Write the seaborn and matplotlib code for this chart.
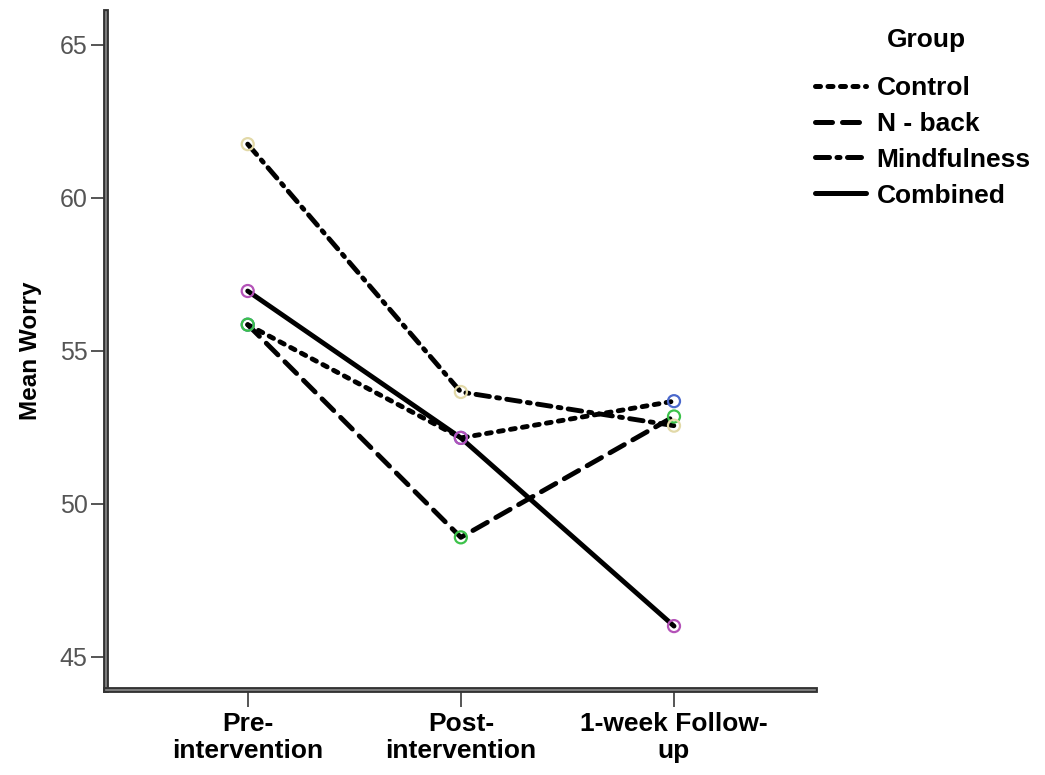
import pandas as pd
import numpy as np
import matplotlib
matplotlib.use("Agg")
import matplotlib.pyplot as plt
import matplotlib.patheffects as pe
import seaborn as sns

# datos
tiempos = ["Pre-\nintervention", "Post-\nintervention", "1-week Follow-\nup"]
grupos = ["Control", "N - back", "Mindfulness", "Combined"]
control = [55.85, 52.15, 53.35]
nback = [55.85, 48.9, 52.85]
mindfulness = [61.75, 53.65, 52.55]
combined = [56.95, 52.15, 46.0]

colores = ["#4a68cc", "#3cc24a", "#e2d9a8", "#b452b8"]
trazos = [(1.0, 1.5), (3.4, 2.0), (2.8, 1.5, 0.6, 1.5), ""]

df = pd.DataFrame({
    "Tiempo": tiempos * 4,
    "Group": np.repeat(grupos, 3),
    "Mean": control + nback + mindfulness + combined,
})
df["x"] = np.tile(np.arange(len(tiempos)), 4)

sns.set_style("white")
plt.rcParams["font.family"] = ["Liberation Sans", "DejaVu Sans"]
plt.rcParams["text.color"] = "black"
plt.rcParams["axes.labelcolor"] = "black"
plt.rcParams["lines.dash_capstyle"] = "round"
plt.rcParams["lines.solid_capstyle"] = "round"

fig = plt.figure(figsize=(10.45, 7.75), dpi=100)
ax = fig.add_axes([0.101, 0.110, 0.679, 0.875])

sns.lineplot(data=df, x="x", y="Mean", style="Group", style_order=grupos,
             dashes=dict(zip(grupos, trazos)), color="black", linewidth=3.5,
             ax=ax, legend=False)
sns.scatterplot(data=df, x="x", y="Mean", hue="Group", hue_order=grupos,
                palette=dict(zip(grupos, colores)), marker="o", s=75,
                linewidth=1.6, ax=ax, legend=False, zorder=5)
# círculos huecos
puntos = ax.collections[-1]
puntos.set_edgecolors(puntos.get_facecolors())
puntos.set_facecolors("none")

ax.set_xlim(-0.667, 2.662)
ax.set_ylim(43.92, 66.08)
ax.set_xticks(range(len(tiempos)))
ax.set_xticklabels(tiempos, fontsize=19, fontweight="bold", linespacing=1.15,
                   color="black")
ax.set_yticks([45, 50, 55, 60, 65])
ax.tick_params(axis="y", labelsize=18, labelcolor="#555555", color="#555555",
               length=11, width=1.4, direction="out", left=True, pad=2)
ax.tick_params(axis="x", color="#555555", length=12, width=1.4,
               direction="out", bottom=True, pad=4)
ax.set_xlabel("")
ax.set_ylabel("Mean Worry", fontsize=17.5, fontweight="bold", labelpad=13,
              color="black")

for s in ["top", "right"]:
    ax.spines[s].set_visible(False)
for s in ["left", "bottom"]:
    ax.spines[s].set_linewidth(1.2)
    ax.spines[s].set_color("#8a8a8a")
    ax.spines[s].set_path_effects([pe.Stroke(linewidth=4.2, foreground="#333333"), pe.Normal()])

# leyenda
handles = [plt.Line2D([], [], color="black", linewidth=3.6,
                      linestyle=("-" if t == "" else (0, t))) for t in trazos]
leg = fig.legend(handles, grupos, loc="upper left",
                 bbox_to_anchor=(0.78, 0.902), frameon=False, borderpad=0,
                 borderaxespad=0, prop={"size": 19, "weight": "bold"},
                 handlelength=1.93, handletextpad=0.4, labelspacing=0.45)
for t in leg.get_texts():
    t.set_color("black")
fig.text(0.887, 0.948, "Group", fontsize=19, fontweight="bold",
         ha="center", va="center", color="black")

fig.savefig("out.png", dpi=100)
